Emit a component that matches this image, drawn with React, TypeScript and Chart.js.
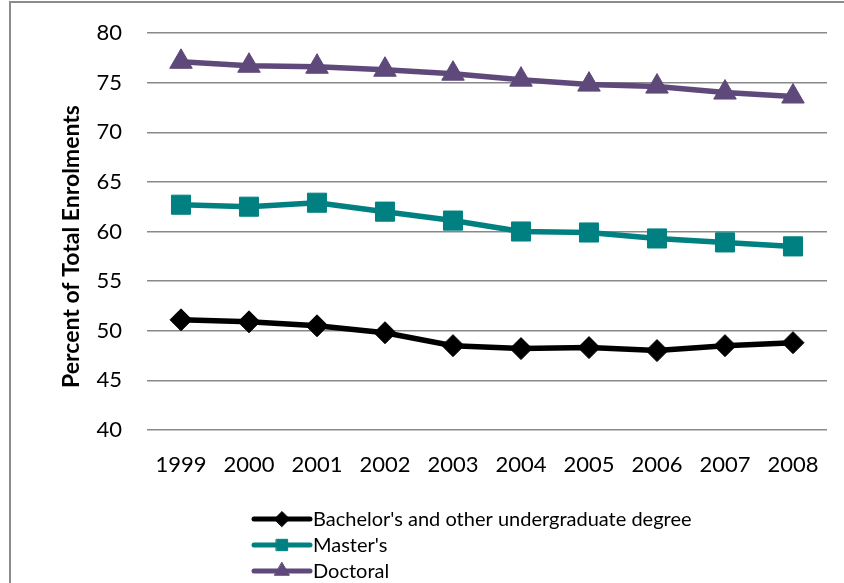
import React, { useEffect, useRef } from "react";
import { Chart, registerables } from "chart.js";
import { drawPoint } from "chart.js/helpers";

Chart.register(...registerables);

const years = ["1999", "2000", "2001", "2002", "2003", "2004", "2005", "2006", "2007", "2008"];
const bachelors = [51.1, 50.9, 50.5, 49.8, 48.5, 48.2, 48.3, 48.0, 48.5, 48.8];
const masters = [62.7, 62.5, 62.9, 62.0, 61.1, 60.0, 59.9, 59.3, 58.9, 58.5];
const doctoral = [77.1, 76.7, 76.6, 76.3, 75.9, 75.3, 74.8, 74.6, 74.0, 73.6];
const seriesNames = ["Bachelor's and other undergraduate degree", "Master's", "Doctoral"];
const seriesColors = ["#000000", "#008080", "#5F497A"];
const seriesMarkers = ["rectRot", "rect", "triangle"];
const yMin = 40;
const yMax = 80;
const yStep = 5;
const yTitle = "Percent of Total Enrolments";

const FONT = "Lato, 'Open Sans', sans-serif";

const extrasPlugin = {
  id: "extras",
  afterDraw(chart: any) {
    const ctx = chart.ctx;
    const area = chart.chartArea;
    // y-axis title
    ctx.save();
    ctx.font = `bold 23px ${FONT}`;
    ctx.fillStyle = "#000";
    ctx.textAlign = "center";
    ctx.textBaseline = "middle";
    ctx.translate(72, (area.top + area.bottom) / 2 + 15);
    ctx.rotate(-Math.PI / 2);
    ctx.fillText(yTitle, 0, 0);
    ctx.restore();

    // legend
    const legendX = 254;
    const lineLen = 56;
    const rowY = [519, 545, 571];
    const markerR = [7.5, 8, 8.5];
    chart.data.datasets.forEach((ds: any, i: number) => {
      const y = rowY[i];
      ctx.save();
      ctx.strokeStyle = ds.borderColor;
      ctx.lineWidth = 5;
      ctx.lineCap = "round";
      ctx.beginPath();
      ctx.moveTo(legendX, y);
      ctx.lineTo(legendX + lineLen, y);
      ctx.stroke();
      ctx.fillStyle = ds.pointBackgroundColor;
      ctx.strokeStyle = ds.pointBorderColor;
      ctx.lineWidth = 1;
      drawPoint(ctx, { pointStyle: ds.pointStyle, radius: markerR[i], rotation: 0, borderWidth: 1 }, legendX + lineLen / 2, y);
      ctx.fillStyle = "#000";
      ctx.font = `20px ${FONT}`;
      ctx.textAlign = "left";
      ctx.textBaseline = "middle";
      ctx.fillText(ds.label, legendX + lineLen + 3, y + 1);
      ctx.restore();
    });
  },
};

export default function App() {
  const ref = useRef<HTMLCanvasElement>(null);

  useEffect(() => {
    if (!ref.current) return;
    const seriesValues = [bachelors, masters, doctoral];
    const radii = [11, 13.5, 13];
    const chart = new Chart(ref.current, {
      type: "line",
      data: {
        labels: years,
        datasets: seriesNames.map((name, i) => ({
          label: name,
          data: seriesValues[i],
          borderColor: seriesColors[i],
          backgroundColor: seriesColors[i],
          pointBackgroundColor: seriesColors[i],
          pointBorderColor: seriesColors[i],
          pointStyle: seriesMarkers[i] as any,
          pointRadius: radii[i],
          pointBorderWidth: 1,
          borderWidth: 5.5,
          tension: 0,
          fill: false,
        })),
      },
      options: {
        responsive: false,
        animation: false,
        devicePixelRatio: 1,
        layout: { padding: { left: 0, top: 33, right: 17, bottom: 0 } },
        plugins: {
          legend: { display: false },
          tooltip: { enabled: false },
        },
        scales: {
          x: {
            offset: true,
            grid: { display: false, drawTicks: false },
            border: { display: false },
            ticks: { color: "#000", font: { family: FONT, size: 22 }, padding: 22, maxRotation: 0 },
            afterFit: (s: any) => {
              s.height = 153;
            },
          },
          y: {
            min: yMin,
            max: yMax,
            grid: { color: "#898989", lineWidth: 1.5, drawTicks: false },
            border: { display: false },
            ticks: {
              stepSize: yStep,
              color: "#000",
              font: { family: FONT, size: 22 },
              padding: 25,
            },
            afterFit: (s: any) => {
              s.width = 147;
              s.paddingTop = 0;
              s.paddingBottom = 0;
            },
          },
        },
      },
      plugins: [extrasPlugin],
    });
    return () => chart.destroy();
  }, []);

  return (
    <div>
      <div
        style={{
          position: "fixed",
          left: 9,
          top: 1,
          width: 900,
          height: 700,
          border: "2px solid #8c8c8c",
          boxSizing: "border-box",
        }}
      />
      <canvas
        ref={ref}
        width={844}
        height={583}
        style={{ position: "fixed", left: 0, top: 0, width: 844, height: 583 }}
      />
    </div>
  );
}
